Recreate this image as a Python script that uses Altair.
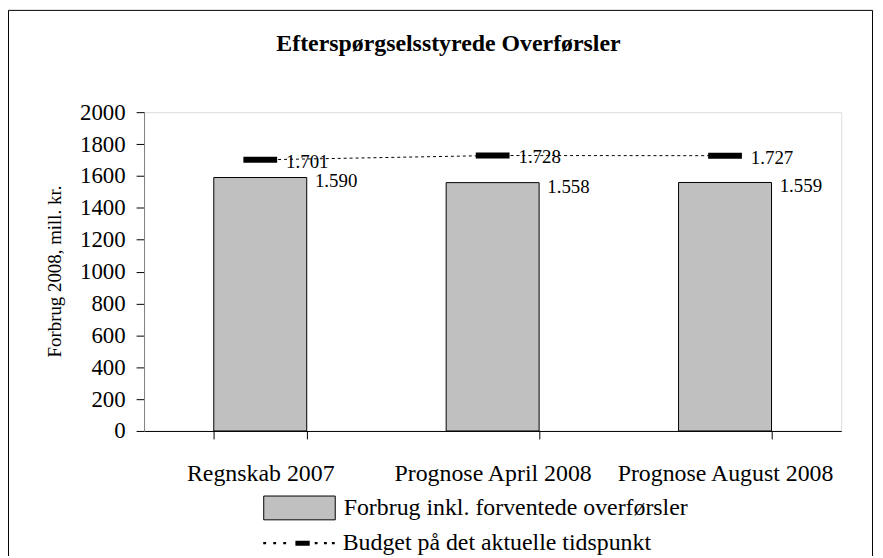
import altair as alt
import pandas as pd

# ---- data ----
categories = ["Regnskab 2007", "Prognose April 2008", "Prognose August 2008"]
forbrug = [1590, 1558, 1559]
budget = [1701, 1728, 1727]
series_bar = "Forbrug inkl. forventede overførsler"
series_budget = "Budget på det aktuelle tidspunkt"
title_text = "Efterspørgselsstyrede Overførsler"
y_title = "Forbrug 2008, mill. kr."
y_ticks = [0, 200, 400, 600, 800, 1000, 1200, 1400, 1600, 1800, 2000]


def dk(v):
    return f"{v:,}".replace(",", ".")


df = pd.DataFrame({
    "kategori": categories,
    "forbrug": forbrug,
    "budget": budget,
    "forbrug_lbl": [dk(v) for v in forbrug],
    "budget_lbl": [dk(v) for v in budget],
    "s1": [series_bar] * 3,
    "s2": [series_budget] * 3,
})

FONT = "Liberation Serif"

x_axis = alt.Axis(
    title=None, labelAngle=0, labelFontSize=24, labelFont=FONT,
    labelColor="black", labelPadding=23, tickSize=8, tickBand="extent",
    domainColor="black", tickColor="black", labelLimit=0,
)
x_scale = alt.Scale(paddingInner=0.6, paddingOuter=0.3)
y_scale = alt.Scale(domain=[0, 2000], nice=False)
y_axis = alt.Axis(
    values=y_ticks, tickCount=len(y_ticks) + 5, format="d",
    labelOverlap=False, grid=False,
    title=y_title,
    titleFont=FONT, titleFontSize=19, titleFontWeight="normal",
    titleColor="black", titleX=-90, titleY=160, titleAlign="center",
    titleBaseline="middle", titleAngle=270,
    labelFont=FONT, labelFontSize=23, labelColor="black", labelPadding=11,
    tickSize=8, tickColor="black", domainColor="#808080",
)


def X():
    return alt.X("kategori:N", sort=categories, scale=x_scale, axis=x_axis)


def Y(field):
    return alt.Y(field, scale=y_scale, axis=y_axis)


base = alt.Chart(df)

bar_symbol = "M-1,-0.333H1V0.333H-1Z"
budget_symbol = (
    "M-1,-0.03H-0.92V0.03H-1Z "
    "M-0.72,-0.03H-0.64V0.03H-0.72Z "
    "M-0.44,-0.03H-0.36V0.03H-0.44Z "
    "M-0.10,-0.07H0.30V0.07H-0.10Z "
    "M0.44,-0.03H0.52V0.03H0.44Z "
    "M0.70,-0.03H0.78V0.03H0.70Z "
    "M0.92,-0.03H1V0.03H0.92Z"
)

bars = base.mark_bar(stroke="black", strokeWidth=1).encode(
    x=X(),
    y=Y("forbrug:Q"),
    fill=alt.Fill(
        "s1:N",
        scale=alt.Scale(range=["#c0c0c0"]),
        legend=alt.Legend(
            title=None, orient="none", legendX=120, legendY=362,
            symbolType=bar_symbol, symbolSize=5184, symbolStrokeColor="black",
            symbolStrokeWidth=1, symbolFillColor="#c0c0c0",
            labelFont=FONT, labelFontSize=24, labelColor="black",
            labelOffset=8, labelLimit=0, padding=0, symbolOffset=0,
        ),
    ),
)

bar_labels = base.mark_text(
    align="left", baseline="middle", dx=55, dy=4, font=FONT, fontSize=19,
    color="black",
).encode(
    x=X(),
    y=Y("forbrug:Q"),
    text="forbrug_lbl:N",
)

budget_line = base.mark_line(
    strokeDash=[3, 3], strokeWidth=1, color="black"
).encode(
    x=X(),
    y=Y("budget:Q"),
)

budget_ticks = base.mark_tick(thickness=6, size=34, opacity=1).encode(
    x=X(),
    y=Y("budget:Q"),
    color=alt.Color(
        "s2:N",
        scale=alt.Scale(range=["black"]),
        legend=alt.Legend(
            title=None, orient="none", legendX=120, legendY=398,
            symbolType=budget_symbol, symbolSize=5184,
            symbolFillColor="black", symbolStrokeWidth=0, symbolOpacity=1,
            labelFont=FONT, labelFontSize=24, labelColor="black",
            labelOffset=8, labelLimit=0, padding=0, symbolOffset=0,
        ),
    ),
)

budget_labels = base.mark_text(
    align="left", baseline="middle", dx=26, dy=2, font=FONT, fontSize=19,
    color="black",
).encode(
    x=X(),
    y=Y("budget:Q"),
    text="budget_lbl:N",
)

deco = alt.Chart(pd.DataFrame({"t": [title_text]}))
frame = deco.mark_rect(
    fillOpacity=0, stroke="black", strokeWidth=1
).encode(
    x=alt.value(-136.5), x2=alt.value(733.5),
    y=alt.value(-102.5), y2=alt.value(520),
)
title = deco.mark_text(
    font=FONT, fontSize=24, fontWeight="bold", color="black",
    align="center", baseline="alphabetic",
).encode(
    x=alt.value(306.5), y=alt.value(-62), text="t:N",
)

chart = alt.layer(
    bars, budget_line, budget_ticks, bar_labels, budget_labels, frame, title
).resolve_scale(
    fill="independent", color="independent"
).properties(
    width=702,
    height=321,
    autosize=alt.AutoSizeParams(type="none"),
    padding={"left": 137, "top": 103, "right": 34, "bottom": 124},
).configure_view(
    stroke=None
).configure(
    background="white"
)

chart.save("out.html", embed_options={"renderer": "svg", "actions": False})
